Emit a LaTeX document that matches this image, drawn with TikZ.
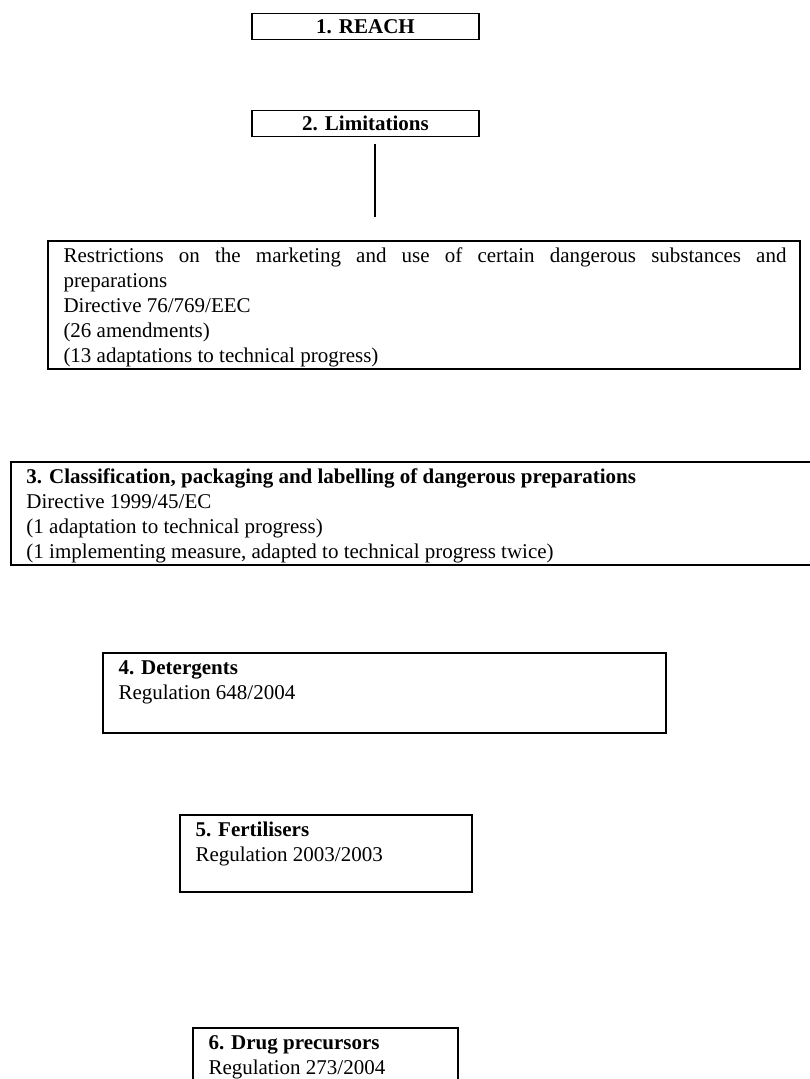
\documentclass[tikz,border=0pt]{standalone}
\usepackage{fontspec}
\setmainfont{Liberation Serif}
\newcommand{\framedtext}[3]{\parbox[c][#2][t]{#1}{\raggedright\leftskip=15.5pt\relax\vspace*{4pt}\strut #3}}
\tikzset{
  basefont/.style={font=\fontsize{21}{25}\selectfont},
  frame/.style={draw=black, line width=1.8pt, inner sep=0pt, outer sep=0pt, basefont},
  headbox/.style={frame, minimum width=227pt, minimum height=26pt, text height=14pt, text depth=0pt, font={\fontsize{21}{25}\selectfont\bfseries}},
  textbox/.style={frame, anchor=north west},
  link/.style={draw=black, line width=1.8pt},
}
\begin{document}
\begin{tikzpicture}[x=1pt,y=-1pt]
\useasboundingbox (0,0) rectangle (810,1079);
\fill[white] (0,0) rectangle (810,1079);
\clip (0,0) rectangle (810,1079);

\node[headbox] (reach) at (365.5,26.5) {1. REACH};
\node[headbox] (limit) at (365.5,123.5) {2. Limitations};

\coordinate (ltop) at (375,144);
\coordinate (lbot) at (375,217);
\draw[link] (ltop) -- (lbot);

\node[textbox] (restr) at (48,241) {\framedtext{752pt}{128pt}{%
\makebox[723pt][s]{Restrictions on the marketing and use of certain dangerous substances and}\\
preparations\\
Directive 76/769/EEC\\
(26 amendments)\\
(13 adaptations to technical progress)}};

\node[textbox] (clp) at (11,462) {\framedtext{812pt}{103pt}{%
\textbf{3. Classification, packaging and labelling of dangerous preparations}\\
Directive 1999/45/EC\\
(1 adaptation to technical progress)\\
(1 implementing measure, adapted to technical progress twice)}};

\node[textbox] (deterg) at (103,653) {\framedtext{563pt}{80pt}{%
\textbf{4. Detergents}\\
Regulation 648/2004}};

\node[textbox] (fert) at (180,815) {\framedtext{292pt}{77pt}{%
\textbf{5. Fertilisers}\\
Regulation 2003/2003}};

\node[textbox] (drug) at (193,1028) {\framedtext{265pt}{80pt}{%
\textbf{6. Drug precursors}\\
Regulation 273/2004}};
\end{tikzpicture}
\end{document}
